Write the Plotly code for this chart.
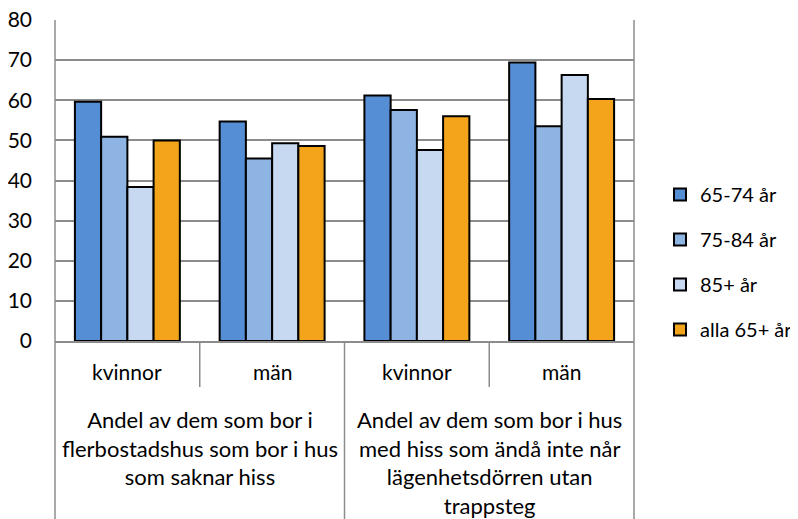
import plotly.graph_objects as go

# data
categories = ["kvinnor", "män", "kvinnor ", "män "]
inner_labels = ["kvinnor", "män", "kvinnor", "män"]
outer_labels = [
    "Andel av dem som bor i<br>flerbostadshus som bor i hus<br>som saknar hiss",
    "Andel av dem som bor i hus<br>med hiss som ändå inte når<br>lägenhetsdörren utan<br>trappsteg",
]
series_names = ["65-74 år", "75-84 år", "85+ år", "alla 65+ år"]
v_65_74 = [59.6, 54.7, 61.2, 69.4]
v_75_84 = [50.9, 45.5, 57.6, 53.5]
v_85 = [38.4, 49.3, 47.6, 66.3]
v_alla = [50.0, 48.6, 56.0, 60.3]
colors = ["#558ED5", "#8EB4E3", "#C6D9F1", "#F3A41B"]

FONT = "Lato"
GRID = "#8c8c8c"
FS = 21

fig = go.Figure()
for i, (name, vals) in enumerate(zip(series_names, [v_65_74, v_75_84, v_85, v_alla])):
    fig.add_trace(go.Bar(
        name=name, x=categories, y=vals,
        marker_color=colors[i],
        marker_line_color="black", marker_line_width=2,
        legendgroup=str(i),
    ))

# the page body has an 8px margin, so the figure is 8px smaller than the window
W, H = 790, 511
L, R, T, B = 47, 164, 12, 178
H_PLOT = H - T - B
W_PLOT = W - L - R
bot = -B / H_PLOT

shapes = []
# outer frame lines (left / right) that run down through the label area
for xp in [0, 1]:
    shapes.append(dict(type="line", xref="paper", yref="paper", x0=xp, x1=xp,
                       y0=bot, y1=1, line=dict(color=GRID, width=1.5)))
# divider between the two outer groups
shapes.append(dict(type="line", xref="paper", yref="paper", x0=0.5, x1=0.5,
                   y0=bot, y1=0, line=dict(color=GRID, width=1.5)))
# short dividers between kvinnor / män
for xp in [0.25, 0.75]:
    shapes.append(dict(type="line", xref="paper", yref="paper", x0=xp, x1=xp,
                       y0=-46 / H_PLOT, y1=0, line=dict(color=GRID, width=1.5)))

annotations = []
for i, lab in enumerate(inner_labels):
    annotations.append(dict(text=lab, x=i, xref="x", y=-31 / H_PLOT, yref="paper",
                            showarrow=False, yanchor="middle",
                            font=dict(family=FONT, size=FS, color="black")))
for j, lab in enumerate(outer_labels):
    annotations.append(dict(text=lab, x=j * 2 + 0.5, xref="x", y=-63 / H_PLOT, yref="paper",
                            showarrow=False, yanchor="top", align="center",
                            font=dict(family=FONT, size=22, color="black")))

fig.update_layout(
    width=W, height=H,
    margin=dict(l=L, r=R, t=T, b=B, autoexpand=False),
    paper_bgcolor="white", plot_bgcolor="white",
    barmode="group", bargap=0.275, bargroupgap=0,
    font=dict(family=FONT, size=FS, color="black"),
    xaxis=dict(showticklabels=False, ticks="", showline=True, linecolor=GRID, linewidth=1.5,
               showgrid=False, automargin=False),
    yaxis=dict(range=[0, 80], dtick=10, showgrid=True, gridcolor=GRID, gridwidth=1.5,
               zeroline=False, ticks="", ticklabelstandoff=22, automargin=False,
               ticklabeloverflow="allow",
               tickfont=dict(family=FONT, size=FS, color="black")),
    legend=dict(x=(W - L) / W_PLOT, xanchor="right", y=0.246, yanchor="middle",
                tracegroupgap=16, font=dict(family=FONT, size=20, color="black")),
    shapes=shapes, annotations=annotations,
)

fig.write_html("out.html")
